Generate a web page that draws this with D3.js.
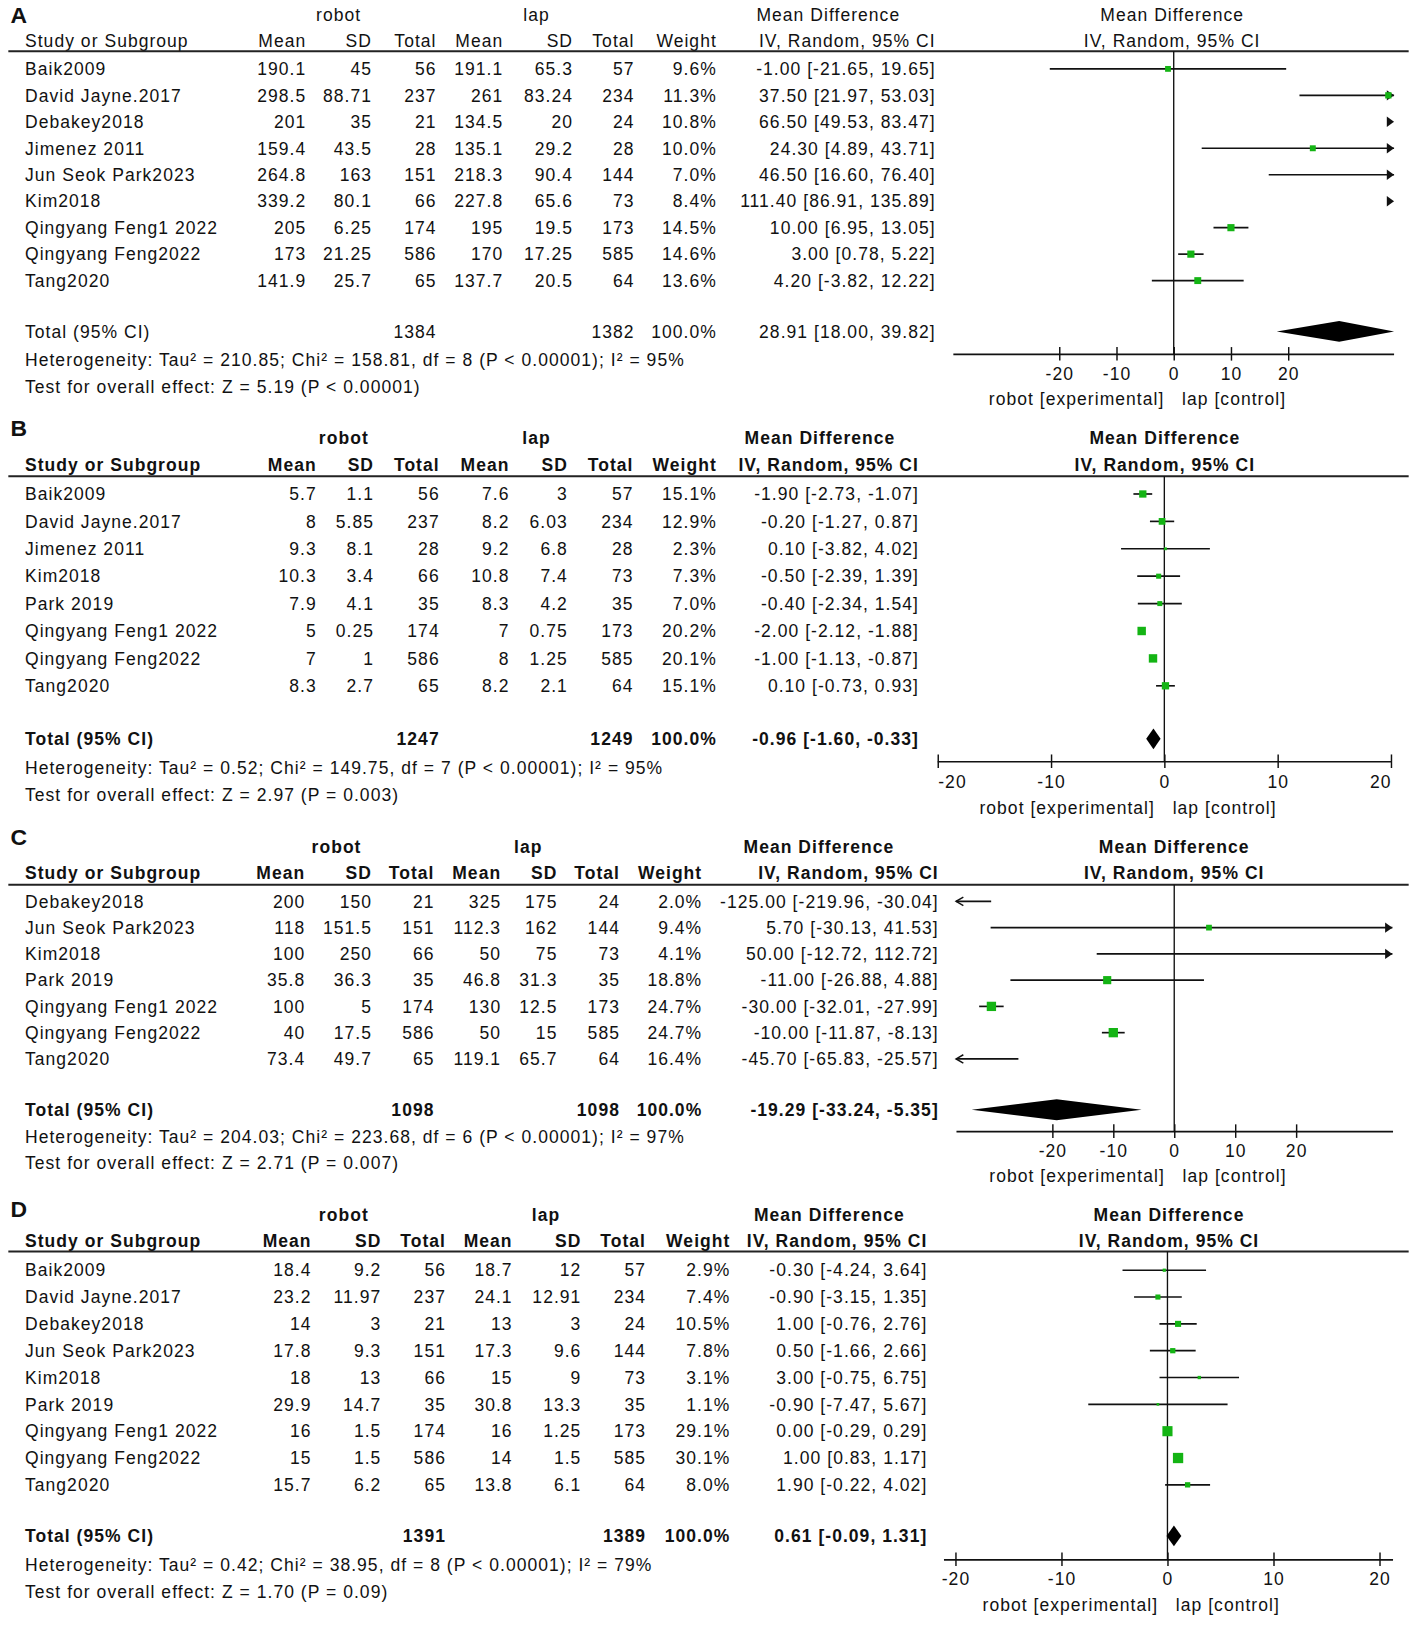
<!DOCTYPE html>
<html>
<head>
<meta charset="utf-8">
<script src="https://cdn.jsdelivr.net/npm/d3@7"></script>
<style>
html, body { margin: 0; padding: 0; background: #fff; }
svg text { font-family: "Liberation Sans", Arial, sans-serif; fill: #111; }
</style>
</head>
<body>
<svg id="chart"></svg>
<script>
// --- Panel A ---
var A_STUDIES    = ['Baik2009', 'David Jayne.2017', 'Debakey2018', 'Jimenez 2011', 'Jun Seok Park2023', 'Kim2018', 'Qingyang Feng1 2022', 'Qingyang Feng2022', 'Tang2020'];
var A_ROBOT_MEAN = [190.1, 298.5, 201, 159.4, 264.8, 339.2, 205, 173, 141.9];
var A_ROBOT_SD   = [45, 88.71, 35, 43.5, 163, 80.1, 6.25, 21.25, 25.7];
var A_ROBOT_N    = [56, 237, 21, 28, 151, 66, 174, 586, 65];
var A_LAP_MEAN   = [191.1, 261, 134.5, 135.1, 218.3, 227.8, 195, 170, 137.7];
var A_LAP_SD     = [65.3, 83.24, 20, 29.2, 90.4, 65.6, 19.5, 17.25, 20.5];
var A_LAP_N      = [57, 234, 24, 28, 144, 73, 173, 585, 64];
var A_WEIGHT     = [9.6, 11.3, 10.8, 10.0, 7.0, 8.4, 14.5, 14.6, 13.6];
var A_MD         = [-1.00, 37.50, 66.50, 24.30, 46.50, 111.40, 10.00, 3.00, 4.20];
var A_LO         = [-21.65, 21.97, 49.53, 4.89, 16.60, 86.91, 6.95, 0.78, -3.82];
var A_HI         = [19.65, 53.03, 83.47, 43.71, 76.40, 135.89, 13.05, 5.22, 12.22];
var A_TOTAL      = [1384, 1382, 28.91, 18.00, 39.82];
var A_HET        = 'Heterogeneity: Tau\u00b2 = 210.85; Chi\u00b2 = 158.81, df = 8 (P < 0.00001); I\u00b2 = 95%';
var A_TEST       = 'Test for overall effect: Z = 5.19 (P < 0.00001)';

// --- Panel B ---
var B_STUDIES    = ['Baik2009', 'David Jayne.2017', 'Jimenez 2011', 'Kim2018', 'Park 2019', 'Qingyang Feng1 2022', 'Qingyang Feng2022', 'Tang2020'];
var B_ROBOT_MEAN = [5.7, 8, 9.3, 10.3, 7.9, 5, 7, 8.3];
var B_ROBOT_SD   = [1.1, 5.85, 8.1, 3.4, 4.1, 0.25, 1, 2.7];
var B_ROBOT_N    = [56, 237, 28, 66, 35, 174, 586, 65];
var B_LAP_MEAN   = [7.6, 8.2, 9.2, 10.8, 8.3, 7, 8, 8.2];
var B_LAP_SD     = [3, 6.03, 6.8, 7.4, 4.2, 0.75, 1.25, 2.1];
var B_LAP_N      = [57, 234, 28, 73, 35, 173, 585, 64];
var B_WEIGHT     = [15.1, 12.9, 2.3, 7.3, 7.0, 20.2, 20.1, 15.1];
var B_MD         = [-1.90, -0.20, 0.10, -0.50, -0.40, -2.00, -1.00, 0.10];
var B_LO         = [-2.73, -1.27, -3.82, -2.39, -2.34, -2.12, -1.13, -0.73];
var B_HI         = [-1.07, 0.87, 4.02, 1.39, 1.54, -1.88, -0.87, 0.93];
var B_TOTAL      = [1247, 1249, -0.96, -1.60, -0.33];
var B_HET        = 'Heterogeneity: Tau\u00b2 = 0.52; Chi\u00b2 = 149.75, df = 7 (P < 0.00001); I\u00b2 = 95%';
var B_TEST       = 'Test for overall effect: Z = 2.97 (P = 0.003)';

// --- Panel C ---
var C_STUDIES    = ['Debakey2018', 'Jun Seok Park2023', 'Kim2018', 'Park 2019', 'Qingyang Feng1 2022', 'Qingyang Feng2022', 'Tang2020'];
var C_ROBOT_MEAN = [200, 118, 100, 35.8, 100, 40, 73.4];
var C_ROBOT_SD   = [150, 151.5, 250, 36.3, 5, 17.5, 49.7];
var C_ROBOT_N    = [21, 151, 66, 35, 174, 586, 65];
var C_LAP_MEAN   = [325, 112.3, 50, 46.8, 130, 50, 119.1];
var C_LAP_SD     = [175, 162, 75, 31.3, 12.5, 15, 65.7];
var C_LAP_N      = [24, 144, 73, 35, 173, 585, 64];
var C_WEIGHT     = [2.0, 9.4, 4.1, 18.8, 24.7, 24.7, 16.4];
var C_MD         = [-125.00, 5.70, 50.00, -11.00, -30.00, -10.00, -45.70];
var C_LO         = [-219.96, -30.13, -12.72, -26.88, -32.01, -11.87, -65.83];
var C_HI         = [-30.04, 41.53, 112.72, 4.88, -27.99, -8.13, -25.57];
var C_TOTAL      = [1098, 1098, -19.29, -33.24, -5.35];
var C_HET        = 'Heterogeneity: Tau\u00b2 = 204.03; Chi\u00b2 = 223.68, df = 6 (P < 0.00001); I\u00b2 = 97%';
var C_TEST       = 'Test for overall effect: Z = 2.71 (P = 0.007)';

// --- Panel D ---
var D_STUDIES    = ['Baik2009', 'David Jayne.2017', 'Debakey2018', 'Jun Seok Park2023', 'Kim2018', 'Park 2019', 'Qingyang Feng1 2022', 'Qingyang Feng2022', 'Tang2020'];
var D_ROBOT_MEAN = [18.4, 23.2, 14, 17.8, 18, 29.9, 16, 15, 15.7];
var D_ROBOT_SD   = [9.2, 11.97, 3, 9.3, 13, 14.7, 1.5, 1.5, 6.2];
var D_ROBOT_N    = [56, 237, 21, 151, 66, 35, 174, 586, 65];
var D_LAP_MEAN   = [18.7, 24.1, 13, 17.3, 15, 30.8, 16, 14, 13.8];
var D_LAP_SD     = [12, 12.91, 3, 9.6, 9, 13.3, 1.25, 1.5, 6.1];
var D_LAP_N      = [57, 234, 24, 144, 73, 35, 173, 585, 64];
var D_WEIGHT     = [2.9, 7.4, 10.5, 7.8, 3.1, 1.1, 29.1, 30.1, 8.0];
var D_MD         = [-0.30, -0.90, 1.00, 0.50, 3.00, -0.90, 0.00, 1.00, 1.90];
var D_LO         = [-4.24, -3.15, -0.76, -1.66, -0.75, -7.47, -0.29, 0.83, -0.22];
var D_HI         = [3.64, 1.35, 2.76, 2.66, 6.75, 5.67, 0.29, 1.17, 4.02];
var D_TOTAL      = [1391, 1389, 0.61, -0.09, 1.31];
var D_HET        = 'Heterogeneity: Tau\u00b2 = 0.42; Chi\u00b2 = 38.95, df = 8 (P < 0.00001); I\u00b2 = 79%';
var D_TEST       = 'Test for overall effect: Z = 1.70 (P = 0.09)';

var TICKS = [-20, -10, 0, 10, 20];

(function () {
	'use strict';

	var W = 1360, H = 1569;     // drawing units, scaled to the 1417x1635 page
	var FONT = 16.8;
	var SPACING = 1.0;
	var GREEN = '#14b414';

	var svg = d3.select('#chart')
		.attr('width', 1417)
		.attr('height', 1635)
		.attr('viewBox', '0 0 ' + W + ' ' + H);

	// Layout of each panel (positions only).
	var LAYOUT = {
		A: { letterY: 22, groupY: 20, headY: 45, lineY: 49, row0: 66, step: 25.4, totalY: 318, hetY: 345, testY: 371,
		     axisY: 340, tickY: 365, footY: 389, bold: false,
		     cols: [294, 357, 419, 483, 550, 609, 688, 898], groups: [325, 515, 795, 1125],
		     range: [915, 1338], domain: [-38.5, 38.5], axisExt: [915, 1338], edgeAlign: false },
		B: { letterY: 418, groupY: 426, headY: 452, lineY: 457, row0: 474, step: 26.3, totalY: 709, hetY: 737, testY: 763,
		     axisY: 731, tickY: 756, footY: 781, bold: true,
		     cols: [304, 359, 422, 489, 545, 608, 688, 882], groups: [330, 515, 787, 1118],
		     range: [900, 1335], domain: [-20, 20], axisExt: [900, 1335], edgeAlign: true },
		C: { letterY: 811, groupY: 819, headY: 844, lineY: 849, row0: 865, step: 25.2, totalY: 1065, hetY: 1091, testY: 1116,
		     axisY: 1086, tickY: 1110, footY: 1134, bold: true,
		     cols: [293, 357, 417, 481, 535, 595, 674, 901], groups: [323, 507, 786, 1127],
		     range: [917.6, 1336.4], domain: [-35.8, 35.8], axisExt: [918, 1337], edgeAlign: false },
		D: { letterY: 1168, groupY: 1172, headY: 1197, lineY: 1201, row0: 1219, step: 25.75, totalY: 1474, hetY: 1502, testY: 1528,
		     axisY: 1497, tickY: 1521, footY: 1546, bold: true,
		     cols: [299, 366, 428, 492, 558, 620, 701, 890], groups: [330, 524, 796, 1122],
		     range: [917, 1324], domain: [-20, 20], axisExt: [906, 1337], edgeAlign: false }
	};

	var PANELS = [
		{ key: 'A', studies: A_STUDIES, rm: A_ROBOT_MEAN, rsd: A_ROBOT_SD, rn: A_ROBOT_N, lm: A_LAP_MEAN, lsd: A_LAP_SD, ln: A_LAP_N,
		  w: A_WEIGHT, md: A_MD, lo: A_LO, hi: A_HI, total: A_TOTAL, het: A_HET, test: A_TEST },
		{ key: 'B', studies: B_STUDIES, rm: B_ROBOT_MEAN, rsd: B_ROBOT_SD, rn: B_ROBOT_N, lm: B_LAP_MEAN, lsd: B_LAP_SD, ln: B_LAP_N,
		  w: B_WEIGHT, md: B_MD, lo: B_LO, hi: B_HI, total: B_TOTAL, het: B_HET, test: B_TEST },
		{ key: 'C', studies: C_STUDIES, rm: C_ROBOT_MEAN, rsd: C_ROBOT_SD, rn: C_ROBOT_N, lm: C_LAP_MEAN, lsd: C_LAP_SD, ln: C_LAP_N,
		  w: C_WEIGHT, md: C_MD, lo: C_LO, hi: C_HI, total: C_TOTAL, het: C_HET, test: C_TEST },
		{ key: 'D', studies: D_STUDIES, rm: D_ROBOT_MEAN, rsd: D_ROBOT_SD, rn: D_ROBOT_N, lm: D_LAP_MEAN, lsd: D_LAP_SD, ln: D_LAP_N,
		  w: D_WEIGHT, md: D_MD, lo: D_LO, hi: D_HI, total: D_TOTAL, het: D_HET, test: D_TEST }
	];

	function ci(md, lo, hi) {
		return md.toFixed(2) + ' [' + lo.toFixed(2) + ', ' + hi.toFixed(2) + ']';
	}

	function txt(g, x, y, s, anchor, weight, size) {
		return g.append('text')
			.attr('x', x)
			.attr('y', y)
			.attr('text-anchor', anchor || 'start')
			.attr('font-size', size || FONT)
			.attr('font-weight', weight || 'normal')
			.attr('letter-spacing', SPACING)
			.text(s);
	}

	function drawPanel(p) {
		var L = LAYOUT[p.key];
		var g = svg.append('g').attr('class', 'panel-' + p.key);
		var hw = L.bold ? 'bold' : 'normal';
		var c = L.cols;

		// panel letter and group titles
		txt(g, 10, L.letterY, p.key, 'start', 'bold', 22).attr('letter-spacing', 0);
		txt(g, L.groups[0], L.groupY, 'robot', 'middle', hw);
		txt(g, L.groups[1], L.groupY, 'lap', 'middle', hw);
		txt(g, L.groups[2], L.groupY, 'Mean Difference', 'middle', hw);
		txt(g, L.groups[3], L.groupY, 'Mean Difference', 'middle', hw);

		// column header row
		txt(g, 24, L.headY, 'Study or Subgroup', 'start', hw);
		['Mean', 'SD', 'Total', 'Mean', 'SD', 'Total', 'Weight', 'IV, Random, 95% CI'].forEach(function (h, i) {
			txt(g, c[i], L.headY, h, 'end', hw);
		});
		txt(g, L.groups[3], L.headY, 'IV, Random, 95% CI', 'middle', hw);
		g.append('line')
			.attr('x1', 8).attr('x2', 1352)
			.attr('y1', L.lineY).attr('y2', L.lineY)
			.attr('stroke', '#222').attr('stroke-width', 2);

		// study rows
		p.studies.forEach(function (name, i) {
			var y = L.row0 + i * L.step + 6;
			txt(g, 24, y, name);
			var vals = [p.rm[i], p.rsd[i], p.rn[i], p.lm[i], p.lsd[i], p.ln[i]];
			vals.forEach(function (v, j) { txt(g, c[j], y, String(v), 'end'); });
			txt(g, c[6], y, p.w[i].toFixed(1) + '%', 'end');
			txt(g, c[7], y, ci(p.md[i], p.lo[i], p.hi[i]), 'end');
		});

		// total row + footnotes
		var ty = L.totalY + 6;
		txt(g, 24, ty, 'Total (95% CI)', 'start', hw);
		txt(g, c[2], ty, String(p.total[0]), 'end', hw);
		txt(g, c[5], ty, String(p.total[1]), 'end', hw);
		txt(g, c[6], ty, '100.0%', 'end', hw);
		txt(g, c[7], ty, ci(p.total[2], p.total[3], p.total[4]), 'end', hw);
		txt(g, 24, L.hetY + 6, p.het);
		txt(g, 24, L.testY + 6, p.test);

		// --- forest plot ---
		var x = d3.scaleLinear().domain(L.domain).range(L.range);
		var dMin = L.domain[0], dMax = L.domain[1];
		var plot = g.append('g').attr('class', 'forest');

		plot.append('line')
			.attr('x1', x(0)).attr('x2', x(0))
			.attr('y1', L.lineY).attr('y2', L.axisY)
			.attr('stroke', '#111').attr('stroke-width', 1.3);

		p.studies.forEach(function (name, i) {
			var y = L.row0 + i * L.step;
			var lo = p.lo[i], hi = p.hi[i], md = p.md[i];
			if (hi >= dMin && lo <= dMax) {
				plot.append('line')
					.attr('x1', x(Math.max(lo, dMin))).attr('x2', x(Math.min(hi, dMax)))
					.attr('y1', y).attr('y2', y)
					.attr('stroke', '#111').attr('stroke-width', 1.6);
			}
			if (hi > dMax) {
				var xe = x(dMax);
				plot.append('path')
					.attr('d', 'M' + xe + ',' + y + 'L' + (xe - 7) + ',' + (y - 5) + 'L' + (xe - 7) + ',' + (y + 5) + 'Z')
					.attr('fill', '#111');
			}
			if (lo < dMin) {
				var xs = x(dMin);
				plot.append('path')
					.attr('d', 'M' + (xs + 7) + ',' + (y - 4) + 'L' + xs + ',' + y + 'L' + (xs + 7) + ',' + (y + 4))
					.attr('fill', 'none').attr('stroke', '#111').attr('stroke-width', 1.4);
			}
			if (md >= dMin && md <= dMax) {
				var s = Math.max(2.5, 1.8 * Math.sqrt(p.w[i]));
				plot.append('rect')
					.attr('x', x(md) - s / 2).attr('y', y - s / 2)
					.attr('width', s).attr('height', s)
					.attr('fill', GREEN);
			}
		});

		// pooled diamond
		var dy = L.totalY;
		var dl = x(Math.max(p.total[3], dMin)), dr = x(Math.min(p.total[4], dMax)), dm = x(p.total[2]);
		plot.append('path')
			.attr('d', 'M' + dl + ',' + dy + 'L' + dm + ',' + (dy - 10) + 'L' + dr + ',' + dy + 'L' + dm + ',' + (dy + 10) + 'Z')
			.attr('fill', '#000');

		// axis
		var axis = d3.axisBottom(x).tickValues(TICKS).tickSize(6).tickSizeOuter(0)
			.tickFormat(function (d) { return String(d); });
		var ag = plot.append('g')
			.attr('transform', 'translate(0,' + L.axisY + ')')
			.call(axis);
		ag.select('.domain').remove();
		ag.append('line')
			.attr('x1', L.axisExt[0]).attr('x2', L.axisExt[1])
			.attr('stroke', '#111').attr('stroke-width', 1.6);
		ag.selectAll('.tick line').attr('y1', -7).attr('y2', 6).attr('stroke', '#111').attr('stroke-width', 1.4);
		ag.selectAll('.tick text')
			.attr('y', L.tickY - L.axisY)
			.attr('dy', 0)
			.attr('font-size', FONT)
			.attr('letter-spacing', SPACING)
			.attr('font-family', '"Liberation Sans", Arial, sans-serif')
			.attr('fill', '#111')
			.attr('text-anchor', function (d) {
				if (!L.edgeAlign) return 'middle';
				return d === dMin ? 'start' : (d === dMax ? 'end' : 'middle');
			});

		txt(plot, x(0) - 9, L.footY, 'robot [experimental]', 'end');
		txt(plot, x(0) + 8, L.footY, 'lap [control]', 'start');
	}

	PANELS.forEach(drawPanel);
})();
</script>
</body>
</html>
